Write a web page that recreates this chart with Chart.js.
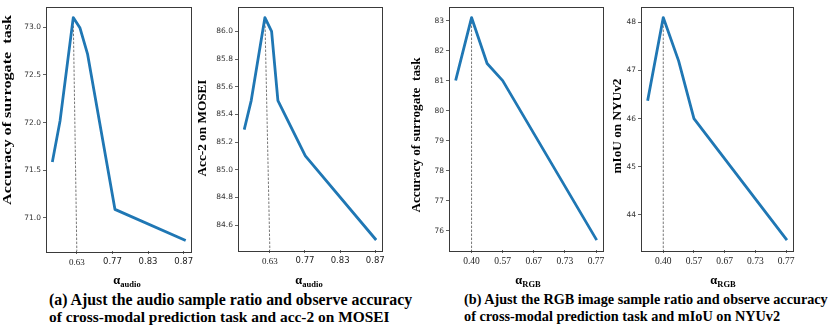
<!DOCTYPE html>
<html>
<head>
<meta charset="utf-8">
<title>Sample ratio study</title>
<script src="https://cdn.jsdelivr.net/npm/chart.js@4.4.0/dist/chart.umd.min.js"></script>
<style>
  body { margin: 0; background: #fff; }
  #page { position: relative; width: 830px; height: 326px; overflow: hidden; background: #fff; }
  .panel { position: absolute; top: 0; }
  .caption {
    position: absolute;
    font-family: 'Liberation Serif', 'Times New Roman', serif;
    font-weight: bold;
    font-size: 15px;
    line-height: 17px;
    color: #000;
    white-space: nowrap;
  }
</style>
</head>
<body>
<div id="page">
  <canvas id="c1" class="panel" style="left:0px" width="200" height="290"></canvas>
  <canvas id="c2" class="panel" style="left:196px" width="192" height="290"></canvas>
  <canvas id="c3" class="panel" style="left:405px" width="205" height="290"></canvas>
  <canvas id="c4" class="panel" style="left:612px" width="190" height="290"></canvas>
  <div class="caption" data-w="363" style="left:49px;top:291px">(a) Ajust the audio sample ratio and observe accuracy</div>
  <div class="caption" data-w="341" style="left:49px;top:308px">of cross-modal prediction task and acc-2 on MOSEI</div>
  <div class="caption" data-w="364" style="left:464px;top:291px">(b) Ajust the RGB image sample ratio and observe accuracy</div>
  <div class="caption" data-w="316" style="left:464px;top:308px">of cross-modal prediction task and mIoU on NYUv2</div>
</div>
<script>
// audio ratio panels (a): x is placed on evenly spaced tick slots
const audioTickLabels = ['0.63', '0.77', '0.83', '0.87'];
const audioPosSurrogate = [-0.68, -0.47, -0.10, 0.09, 0.30, 1.07, 3.02];
const audioPosMosei = [-0.72, -0.53, -0.14, 0.05, 0.23, 1.01, 3.0];
const surrogateAudio = [71.60, 72.02, 73.10, 72.99, 72.72, 71.09, 70.77];
const acc2Mosei = [85.30, 85.50, 86.10, 86.00, 85.50, 85.10, 84.50];
const surrogateAudioTicks = [71.0, 71.5, 72.0, 72.5, 73.0];
const acc2MoseiTicks = [84.6, 84.8, 85.0, 85.2, 85.4, 85.6, 85.8, 86.0];

// RGB ratio panels (b)
const rgbTickLabels = ['0.40', '0.57', '0.67', '0.73', '0.77'];
const rgbPos = [-0.5, 0, 0.5, 1, 4];
const surrogateRgb = [81.05, 83.10, 81.57, 81.00, 75.73];
const miouNyu = [46.40, 48.10, 47.20, 46.00, 43.50];
const surrogateRgbTicks = [76, 77, 78, 79, 80, 81, 82, 83];
const miouNyuTicks = [44, 45, 46, 47, 48];

const LINE_BLUE = '#1f77b4';
const SPINE = '#3a3a3a';
const SERIF = "'Liberation Serif', 'Times New Roman', serif";
const SANS = "'DejaVu Sans', sans-serif";

// matplotlib style 5% margins
function paddedRange(arr) {
    const lo = Math.min(...arr), hi = Math.max(...arr);
    const m = (hi - lo) * 0.05;
    return [lo - m, hi + m];
}

// frame + axis titles (subscript needs manual drawing)
const decorPlugin = {
    id: 'decor',
    afterDraw(chart, args, o) {
        const ctx = chart.ctx;
        const a = chart.chartArea;
        ctx.save();
        ctx.strokeStyle = SPINE;
        ctx.lineWidth = 1;
        ctx.strokeRect(Math.round(a.left) + 0.5, Math.round(a.top) + 0.5,
            Math.round(a.right - a.left), Math.round(a.bottom - a.top));

        // y title, rotated and stretched to its measured length
        ctx.fillStyle = '#000';
        ctx.font = 'bold 13px ' + SERIF;
        ctx.textAlign = 'center';
        ctx.textBaseline = 'middle';
        ctx.translate(o.yTitleX, o.yTitleY);
        ctx.rotate(-Math.PI / 2);
        const w = ctx.measureText(o.yTitle).width;
        ctx.scale(o.yTitleLen / w, 1);
        ctx.fillText(o.yTitle, 0, 0);
        ctx.restore();

        // x title: alpha with subscript
        ctx.save();
        ctx.fillStyle = '#000';
        ctx.textBaseline = 'alphabetic';
        ctx.textAlign = 'left';
        ctx.font = 'bold 12.5px ' + SERIF;
        const wa = ctx.measureText('\u03b1').width;
        ctx.font = 'bold 8.5px ' + SERIF;
        const ws = ctx.measureText(o.xSub).width;
        const x0 = o.xTitleX - (wa + ws) / 2;
        ctx.font = 'bold 12.5px ' + SERIF;
        ctx.fillText('\u03b1', x0, 284);
        ctx.font = 'bold 8.5px ' + SERIF;
        ctx.fillText(o.xSub, x0 + wa, 287);
        ctx.restore();
    }
};

function makePanel(id, cfg) {
    const [xMin, xMax] = paddedRange(cfg.pos);
    const [yMin, yMax] = paddedRange(cfg.values);
    const peak = cfg.values.indexOf(Math.max(...cfg.values));
    const tickSlots = cfg.xLabels.map((_, i) => i);

    new Chart(document.getElementById(id), {
        type: 'line',
        data: {
            datasets: [
                {
                    data: cfg.pos.map((x, i) => ({ x: x, y: cfg.values[i] })),
                    borderColor: LINE_BLUE,
                    borderWidth: 2.8,
                    borderCapStyle: 'square',
                    borderJoinStyle: 'round',
                    pointRadius: 0,
                    tension: 0,
                    fill: false
                },
                {
                    // dashed guide from the best point down to the first tick
                    data: [{ x: cfg.pos[peak], y: cfg.values[peak] }, { x: tickSlots[0], y: yMin }],
                    borderColor: '#555',
                    borderWidth: 0.8,
                    borderDash: [2.5, 1.5],
                    pointRadius: 0,
                    fill: false
                }
            ]
        },
        options: {
            responsive: false,
            animation: false,
            events: [],
            layout: { padding: { top: 2, right: cfg.padRight, left: 0, bottom: 0 } },
            plugins: {
                legend: { display: false },
                tooltip: { enabled: false },
                decor: {
                    yTitle: cfg.yTitle, yTitleX: cfg.yTitleX, yTitleY: cfg.yTitleY, yTitleLen: cfg.yTitleLen,
                    xSub: cfg.xSub, xTitleX: cfg.xTitleX
                }
            },
            scales: {
                x: {
                    type: 'linear',
                    min: xMin,
                    max: xMax,
                    afterBuildTicks: s => { s.ticks = tickSlots.map(v => ({ value: v })); },
                    afterFit: s => { s.height = cfg.xAxisHeight; },
                    border: { display: false },
                    grid: { display: true, drawOnChartArea: false, tickLength: 3, color: SPINE, tickWidth: 0.8 },
                    ticks: {
                        autoSkip: false,
                        maxRotation: 0,
                        padding: 3,
                        color: '#222',
                        font: cfg.xTickFont,
                        callback: (v, i) => cfg.xLabels[i]
                    }
                },
                y: {
                    type: 'linear',
                    min: yMin,
                    max: yMax,
                    afterBuildTicks: s => { s.ticks = cfg.yTicks.map(v => ({ value: v })); },
                    afterFit: s => { s.width = cfg.yAxisWidth; },
                    border: { display: false },
                    grid: { display: true, drawOnChartArea: false, tickLength: 3, color: SPINE, tickWidth: 0.8 },
                    ticks: {
                        autoSkip: false,
                        padding: 2,
                        color: '#333',
                        font: { family: SANS, size: 7.5 },
                        callback: v => v.toFixed(cfg.yDecimals)
                    }
                }
            }
        },
        plugins: [decorPlugin]
    });
}

// first audio tick is set in serif, the rest in sans, as in the figure
const audioTickFont = c => c.index === 0 ? { family: SERIF, size: 9 } : { family: SANS, size: 8.5 };
const rgbTickFont = { family: SERIF, size: 9.5 };

makePanel('c1', {
    pos: audioPosSurrogate, values: surrogateAudio, xLabels: audioTickLabels,
    yTicks: surrogateAudioTicks, yDecimals: 1,
    yTitle: 'Accuracy of surrogate  task', yTitleX: 8, yTitleY: 110, yTitleLen: 190,
    xSub: 'audio', xTitleX: 127, xTickFont: audioTickFont,
    yAxisWidth: 46, padRight: 9, xAxisHeight: 39
});
makePanel('c2', {
    pos: audioPosMosei, values: acc2Mosei, xLabels: audioTickLabels,
    yTicks: acc2MoseiTicks, yDecimals: 1,
    yTitle: 'Acc-2 on MOSEI', yTitleX: 7, yTitleY: 128, yTitleLen: 97,
    xSub: 'audio', xTitleX: 113, xTickFont: audioTickFont,
    yAxisWidth: 42, padRight: 6, xAxisHeight: 40
});
makePanel('c3', {
    pos: rgbPos, values: surrogateRgb, xLabels: rgbTickLabels,
    yTicks: surrogateRgbTicks, yDecimals: 0,
    yTitle: 'Accuracy of surrogate  task', yTitleX: 12, yTitleY: 135, yTitleLen: 155,
    xSub: 'RGB', xTitleX: 123, xTickFont: rgbTickFont,
    yAxisWidth: 44, padRight: 7, xAxisHeight: 40
});
makePanel('c4', {
    pos: rgbPos, values: miouNyu, xLabels: rgbTickLabels,
    yTicks: miouNyuTicks, yDecimals: 0,
    yTitle: 'mIoU on NYUv2', yTitleX: 5.5, yTitleY: 126, yTitleLen: 95,
    xSub: 'RGB', xTitleX: 111, xTickFont: rgbTickFont,
    yAxisWidth: 29, padRight: 9, xAxisHeight: 40
});

// fit each caption line to the width it has in the figure
document.querySelectorAll('.caption').forEach(el => {
    const target = parseFloat(el.dataset.w);
    const base = parseFloat(getComputedStyle(el).fontSize);
    el.style.fontSize = (base * target / el.offsetWidth).toFixed(2) + 'px';
});
</script>
</body>
</html>
